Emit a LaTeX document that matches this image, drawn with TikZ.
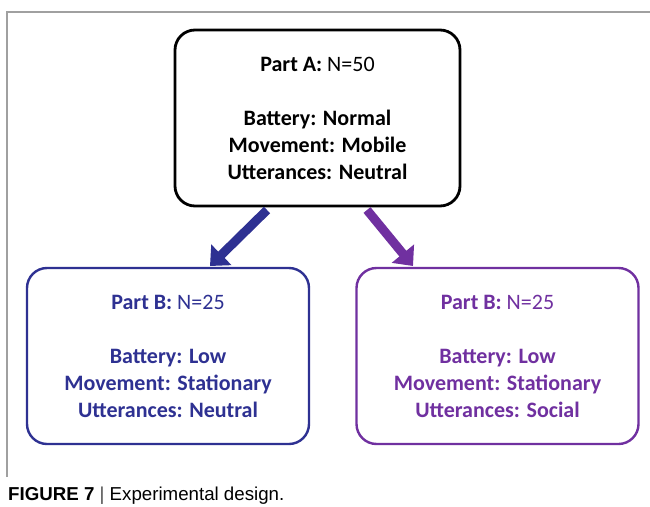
\documentclass[tikz,border=0pt]{standalone}
\usepackage{fontspec}
\setmainfont{Carlito}
\newfontfamily\capfont{Liberation Sans}
\usepackage{tikz}
\usetikzlibrary{arrows.meta,positioning}

\definecolor{partblue}{RGB}{46,49,146}
\definecolor{partpurple}{RGB}{112,48,160}
\definecolor{framegray}{RGB}{160,160,160}

\tikzset{
  partbox/.style={draw,rounded corners=20pt,line width=2.4pt,fill=white,
    minimum width=282pt,minimum height=176pt,align=center,
    font=\fontsize{22pt}{27pt}\selectfont},
  bigarrow/.style={line width=9pt,-{Triangle[length=16pt,width=28pt]}}
}

\begin{document}
\begin{tikzpicture}[x=1pt,y=1pt]
\useasboundingbox (0,0) rectangle (650,-506);
% frame
\draw[framegray,line width=1.5pt] (7,-477) -- (7,-12) -- (650,-12);
% boxes
\node[partbox,minimum width=285pt,line width=2.8pt] (partA) at (317.5,-118)
  {\textbf{Part A:} N=50\\[27pt]\textbf{Battery: Normal}\\\textbf{Movement: Mobile}\\\textbf{Utterances: Neutral}};
\node[partbox,draw=partblue,text=partblue] (partBl) at (168,-356)
  {\textbf{Part B:} N=25\\[27pt]\textbf{Battery: Low}\\\textbf{Movement: Stationary}\\\textbf{Utterances: Neutral}};
\node[partbox,draw=partpurple,text=partpurple] (partBr) at (497.5,-356)
  {\textbf{Part B:} N=25\\[27pt]\textbf{Battery: Low}\\\textbf{Movement: Stationary}\\\textbf{Utterances: Social}};
% arrows
\coordinate (la) at (267,-210);
\coordinate (lb) at (210,-266);
\coordinate (ra) at (367,-210);
\coordinate (rb) at (413,-266);
\draw[bigarrow,partblue] (la) -- (lb);
\draw[bigarrow,partpurple] (ra) -- (rb);
% caption
\node[anchor=base west,inner sep=0pt,font=\capfont\fontsize{18.7pt}{20pt}\selectfont] (caption) at (8,-500)
  {\textbf{FIGURE 7} {\color{black!70}|} Experimental design.};
\end{tikzpicture}
\end{document}
